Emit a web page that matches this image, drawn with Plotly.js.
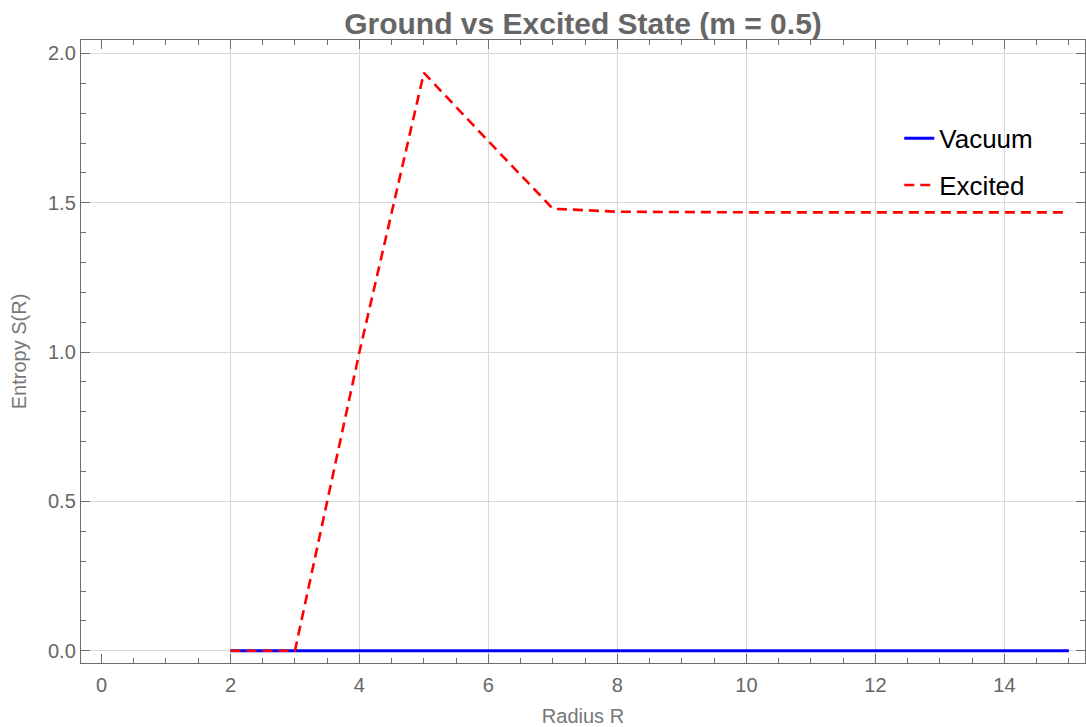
<!DOCTYPE html>
<html>
<head>
<meta charset="utf-8">
<script src="https://cdn.plot.ly/plotly-3.0.1.min.js"></script>
<style>html,body{margin:0;padding:0;background:#fff;}#chart{width:1086px;height:727px;}</style>
</head>
<body>
<div id="chart"></div>
<script>
// Data
const radius = [2, 3, 4, 5, 6, 7, 8, 9, 10, 11, 12, 13, 14, 15];
const vacuumEntropy = [0, 0, 0, 0, 0, 0, 0, 0, 0, 0, 0, 0, 0, 0];
const excitedEntropy = [0, 0, 1.0, 1.935, 1.706, 1.48, 1.47, 1.468, 1.468, 1.468, 1.468, 1.468, 1.468, 1.468];
const xTickVals = [0, 2, 4, 6, 8, 10, 12, 14];
const xGridVals = [2, 4, 6, 8, 10, 12, 14];
const yTickVals = [0, 0.5, 1.0, 1.5, 2.0];
const yTickText = ['0.0', '0.5', '1.0', '1.5', '2.0'];

const axisGray = '#6e6e6e';
const font = 'Liberation Sans, Arial, sans-serif';

const traces = [
  {x: radius, y: vacuumEntropy, name: 'Vacuum', type: 'scatter', mode: 'lines',
   line: {color: '#0000ff', width: 3}, legendgroup: 'a'},
  {x: radius, y: excitedEntropy, name: 'Excited', type: 'scatter', mode: 'lines',
   line: {color: '#ff0000', width: 2.6, dash: '10px,6px'}, legendgroup: 'b'}
];

const gridShapes = xGridVals.map(v => ({
  type: 'line', xref: 'x', yref: 'paper', x0: v, x1: v, y0: 0, y1: 1,
  line: {color: '#d4d4d4', width: 1}, layer: 'below'
}));

const layout = {
  width: 1086, height: 727,
  margin: {l: 81, r: 1, t: 40, b: 64},
  paper_bgcolor: '#fff', plot_bgcolor: '#fff',
  title: {text: '<b>Ground vs Excited State (m = 0.5)</b>', font: {family: font, size: 30, color: '#666666'},
          x: 0.5, xref: 'paper', xanchor: 'center', y: 0.968, yanchor: 'middle', yref: 'container'},
  xaxis: {
    range: [-0.317, 15.25], tickvals: xTickVals, ticktext: xTickVals.map(String),
    showgrid: false, zeroline: false,
    showline: true, linecolor: axisGray, linewidth: 1.2, mirror: 'ticks',
    ticks: 'inside', ticklen: 9, tickcolor: axisGray, tickwidth: 1, ticklabelstandoff: 4,
    minor: {dtick: 0.5, tick0: 0, ticks: 'inside', ticklen: 5, tickcolor: axisGray, showgrid: false},
    tickfont: {family: font, size: 20, color: '#666666'},
    title: {text: 'Radius R', font: {family: font, size: 20, color: '#777777'}, standoff: 23}
  },
  yaxis: {
    range: [-0.041, 2.045], tickvals: yTickVals, ticktext: yTickText,
    showgrid: true, gridcolor: '#d9d9d9', gridwidth: 1, zeroline: false,
    showline: true, linecolor: axisGray, linewidth: 1.2, mirror: 'ticks',
    ticks: 'inside', ticklen: 9, tickcolor: axisGray, tickwidth: 1,
    minor: {dtick: 0.1, tick0: 0, ticks: 'inside', ticklen: 5, tickcolor: axisGray, showgrid: false},
    tickfont: {family: font, size: 20, color: '#666666'},
    title: {text: 'Entropy S(R)', font: {family: font, size: 20, color: '#777777'}, standoff: 16}
  },
  shapes: gridShapes,
  showlegend: true,
  legend: {x: 0.815, y: 0.880, xanchor: 'left', yanchor: 'top', bgcolor: 'rgba(0,0,0,0)',
           font: {family: font, size: 26, color: '#000'}, tracegroupgap: 10, traceorder: 'grouped'}
};

Plotly.newPlot('chart', traces, layout, {displayModeBar: false, staticPlot: true});
</script>
</body>
</html>
